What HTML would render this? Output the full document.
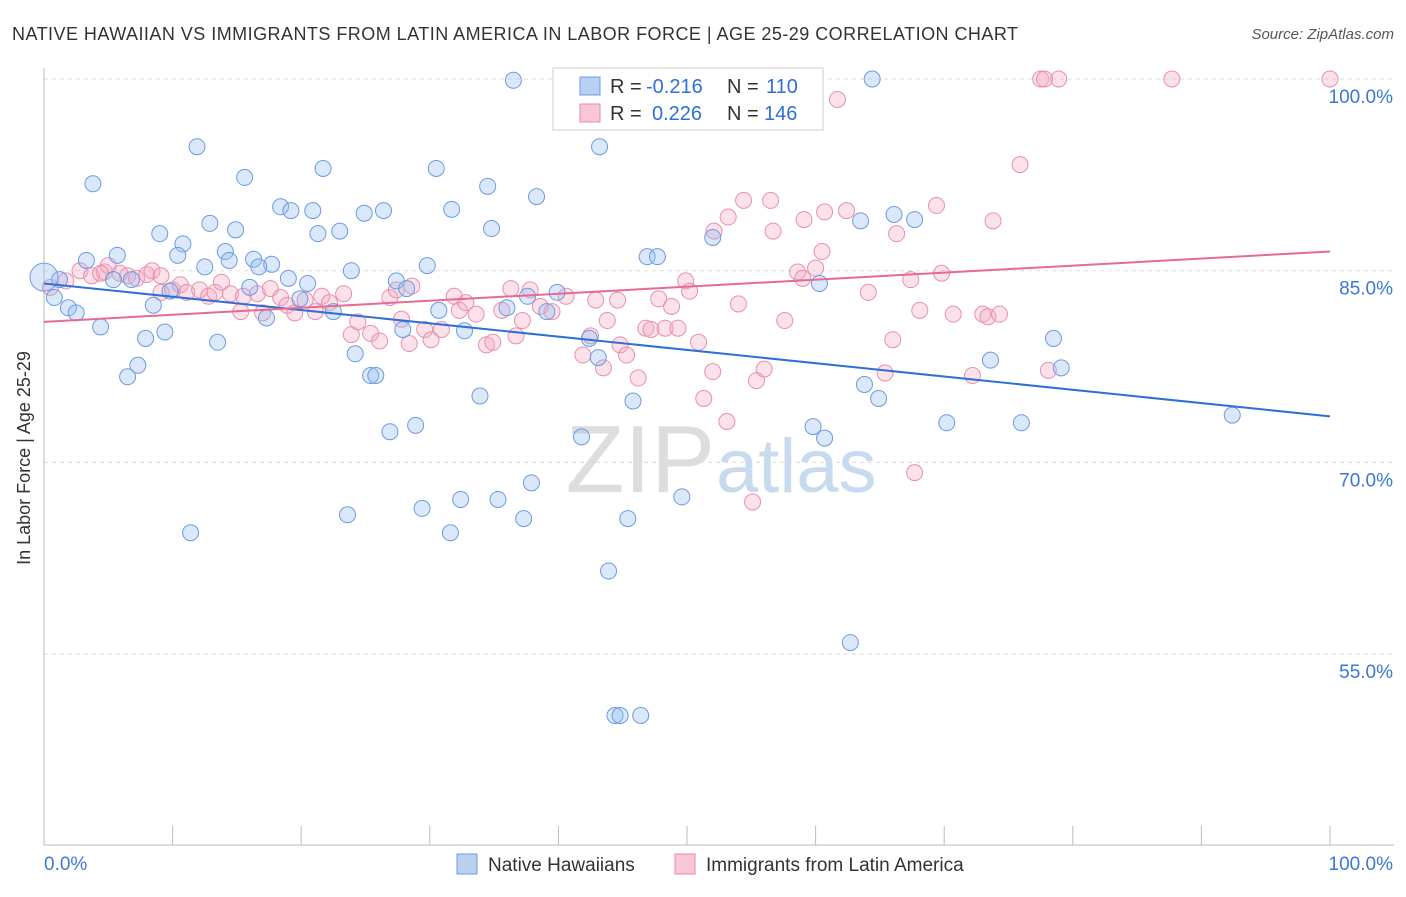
<!DOCTYPE html>
<html><head><meta charset="utf-8"><style>
body{margin:0;background:#fff;font-family:"Liberation Sans",sans-serif;}
svg text{font-family:"Liberation Sans",sans-serif;}
</style></head><body>
<svg id="chart" width="1406" height="892">
<text x="12" y="40" font-size="18" fill="#333" textLength="1006" lengthAdjust="spacing">NATIVE HAWAIIAN VS IMMIGRANTS FROM LATIN AMERICA IN LABOR FORCE | AGE 25-29 CORRELATION CHART</text>
<text x="1394" y="39" font-size="15" fill="#555" text-anchor="end" font-style="italic">Source: ZipAtlas.com</text>
<g id="grid"></g>
<g id="axes"></g>
<text x="715" y="492" font-size="96" fill="#ddd" text-anchor="end" font-family="Liberation Serif">ZIP</text>
<text x="716" y="492" font-size="76" fill="#c8daf0">atlas</text>
<g id="pts"></g>
<g id="lines"></g>
<text x="30" y="458" font-size="18" fill="#333" text-anchor="middle" transform="rotate(-90 30 458)">In Labor Force | Age 25-29</text>
<g>
<rect x="553" y="68" width="270" height="62" fill="#fff" stroke="#ccc"/>
<rect x="580" y="77" width="20" height="18" fill="#b8d0f2" stroke="#6b9be0"/>
<rect x="580" y="104" width="20" height="18" fill="#f8c6d4" stroke="#e889a8"/>
<text x="610" y="93" font-size="20" fill="#333">R =</text>
<text x="646" y="93" font-size="20" fill="#2f6fd8">-0.216</text>
<text x="727" y="93" font-size="20" fill="#333">N =</text>
<text x="766" y="93" font-size="20" fill="#2f6fd8">110</text>
<text x="610" y="120" font-size="20" fill="#333">R =</text>
<text x="652" y="120" font-size="20" fill="#2f6fd8">0.226</text>
<text x="727" y="120" font-size="20" fill="#333">N =</text>
<text x="764" y="120" font-size="20" fill="#2f6fd8">146</text>
</g>
<g>
<rect x="457" y="854" width="20" height="20" fill="#b8d0f2" stroke="#6b9be0"/>
<text x="488" y="871" font-size="19" fill="#333">Native Hawaiians</text>
<rect x="675" y="854" width="20" height="20" fill="#f8c6d4" stroke="#e889a8"/>
<text x="706" y="871" font-size="19" fill="#333">Immigrants from Latin America</text>
</g>
</svg>
<script>
const yTicks=[100,85,70,55];
const yTickLabels=["100.0%","85.0%","70.0%","55.0%"];
const xTickLabels=["0.0%","100.0%"];
const blueX=[36.5,64.4,11.9,43.2,3.8,15.6,21.7,30.5,34.5,38.3,18.4,19.2,20.9,24.9,26.4,31.7,12.9,14.9,9,21.3,23,34.8,10.8,5.7,3.3,10.4,14.1,14.4,16.3,17.7,16.7,12.5,23.9,29.8,19,20.5,27.4,28.2,1.2,5.4,6.8,0.8,1.9,2.5,8.5,9.8,16,19.9,22.5,17.3,4.4,9.4,7.9,13.5,7.3,6.5,24.2,25.4,25.8,27.9,30.7,32.7,36,37.6,39.1,39.9,33.9,26.9,28.9,42.4,43.1,45.8,41.8,46.9,47.7,52,55.7,23.6,29.4,32.4,35.3,37.9,37.3,31.6,45.4,49.6,11.4,43.9,44.4,44.8,46.4,62.7,60.3,63.5,66.1,67.7,63.8,64.9,59.8,60.7,70.2,73.6,76,78.5,79.1,92.4];
const blueY=[99.9,100,94.7,94.7,91.8,92.3,93,93,91.6,90.8,90,89.7,89.7,89.5,89.7,89.8,88.7,88.2,87.9,87.9,88.1,88.3,87.1,86.2,85.8,86.2,86.5,85.8,85.9,85.5,85.3,85.3,85,85.4,84.4,84,84.2,83.6,84.3,84.3,84.3,82.9,82.1,81.7,82.3,83.4,83.7,82.8,81.8,81.3,80.6,80.2,79.7,79.4,77.6,76.7,78.5,76.8,76.8,80.4,81.9,80.3,82.1,83,81.8,83.3,75.2,72.4,72.9,79.7,78.2,74.8,72,86.1,86.1,87.6,97.6,65.9,66.4,67.1,67.1,68.4,65.6,64.5,65.6,67.3,64.5,61.5,50.2,50.2,50.2,55.9,84,88.9,89.4,89,76.1,75,72.8,71.9,73.1,78,73.1,79.7,77.4,73.7];
const pinkX=[77.5,77.8,78.9,87.7,100,61.7,75.9,54.4,56.5,53.2,52.1,59.1,60.7,62.4,56.7,66.3,69.4,73.8,60.5,60,58.6,59,49.9,50.2,69.8,67.4,64.1,54,57.6,68.1,70.7,73,73.4,74.3,66,50.9,65.4,56,52,55.4,72.2,78.1,51.3,53.1,67.7,55.1,0.5,1.7,2.8,3.7,4.7,5,5.9,6.5,7.2,8,8.4,9.1,10,10.6,11.1,12.1,12.8,13.3,13.8,14.5,15.3,15.5,16.6,17,17.6,18.4,18.9,19.5,20.3,21.1,21.6,22.2,23.3,23.9,24.4,25.4,26.1,26.9,27.4,27.8,28.6,28.4,29.6,30.1,30.9,31.9,32.3,32.8,33.6,34.4,34.9,35.6,36.3,36.7,37.2,37.8,38.6,39.5,40.6,41.9,42.5,42.9,43.5,43.8,44.6,44.8,45.3,46.2,46.8,47.2,47.8,48.3,48.8,49.3,9.1,4.4];
const pinkY=[100,100,100,100,100,98.4,93.3,90.5,90.5,89.2,88.1,89,89.6,89.7,88.1,87.9,90.1,88.9,86.5,85.2,84.9,84.4,84.2,83.4,84.8,84.3,83.3,82.4,81.1,81.9,81.6,81.6,81.4,81.6,79.6,79.4,77,77.3,77.1,76.4,76.8,77.2,75,73.2,69.2,66.9,83.7,84.2,85,84.6,84.9,85.4,84.8,84.6,84.4,84.7,85,83.3,83.5,83.9,83.3,83.5,83,83.3,84.1,83.2,81.8,83,83.2,81.7,83.6,82.9,82.3,81.7,82.7,81.8,83,82.5,83.2,80,81,80.1,79.5,82.9,83.5,81.2,83.8,79.3,80.4,79.6,80.4,83,81.9,82.5,81.6,79.2,79.4,81.9,83.6,79.9,81.1,83.5,82.2,81.8,83,78.4,79.9,82.7,77.4,81.1,82.7,79.2,78.4,76.6,80.5,80.4,82.8,80.5,82.2,80.5,84.6,84.8];
const blueTrend=[84.0,73.6];
const pinkTrend=[81.0,86.5];
const NS='http://www.w3.org/2000/svg';
const X=v=>44+v*12.86, Y=v=>79+(100-v)*12.78;
function mk(t,a,p){const e=document.createElementNS(NS,t);for(const k in a)e.setAttribute(k,a[k]);p.appendChild(e);return e;}
const grid=document.getElementById('grid'),axes=document.getElementById('axes');
yTicks.forEach((t,i)=>{
 const l=mk('line',{x1:44,x2:1394,y1:Y(t),y2:Y(t),stroke:'#ddd','stroke-dasharray':'4,4'},grid);
 
 
 const tx=mk('text',{x:1393,y:Y(t)+24,'font-size':19,fill:'#3a78d8','text-anchor':'end'},axes);
 tx.textContent=yTickLabels[i];
 
 
});
mk('line',{x1:44,x2:44,y1:68,y2:845,stroke:'#bbb'},axes);
mk('line',{x1:44,x2:1394,y1:845,y2:845,stroke:'#bbb'},axes);
for(let i=0;i<=10;i++){mk('line',{x1:X(i*10),x2:X(i*10),y1:826,y2:845,stroke:'#bbb'},axes);}
const xl1=mk('text',{x:44,y:870,'font-size':19,fill:'#3a78d8'},axes);xl1.textContent=xTickLabels[0];

const xl2=mk('text',{x:1393,y:870,'font-size':19,fill:'#3a78d8','text-anchor':'end'},axes);xl2.textContent=xTickLabels[1];

const pts=document.getElementById('pts');
pinkX.forEach((x,i)=>{const c=mk('circle',{cx:X(x),cy:Y(pinkY[i]),r:8,fill:'rgba(244,170,195,0.35)',stroke:'#e98fae','stroke-width':1},pts);
 
 });
blueX.forEach((x,i)=>{const c=mk('circle',{cx:X(x),cy:Y(blueY[i]),r:8,fill:'rgba(150,188,240,0.35)',stroke:'#6b9be0','stroke-width':1},pts);
 
 });
const big=mk('circle',{cx:X(0),cy:Y(84.5),r:14,fill:'rgba(150,188,240,0.35)',stroke:'#6b9be0'},pts);


const lines=document.getElementById('lines');
const bl=mk('line',{x1:X(0),y1:Y(blueTrend[0]),x2:X(100),y2:Y(blueTrend[1]),stroke:'#2f6fd8','stroke-width':2},lines);


const pl=mk('line',{x1:X(0),y1:Y(pinkTrend[0]),x2:X(100),y2:Y(pinkTrend[1]),stroke:'#e56a95','stroke-width':2},lines);


</script>
</body></html>
